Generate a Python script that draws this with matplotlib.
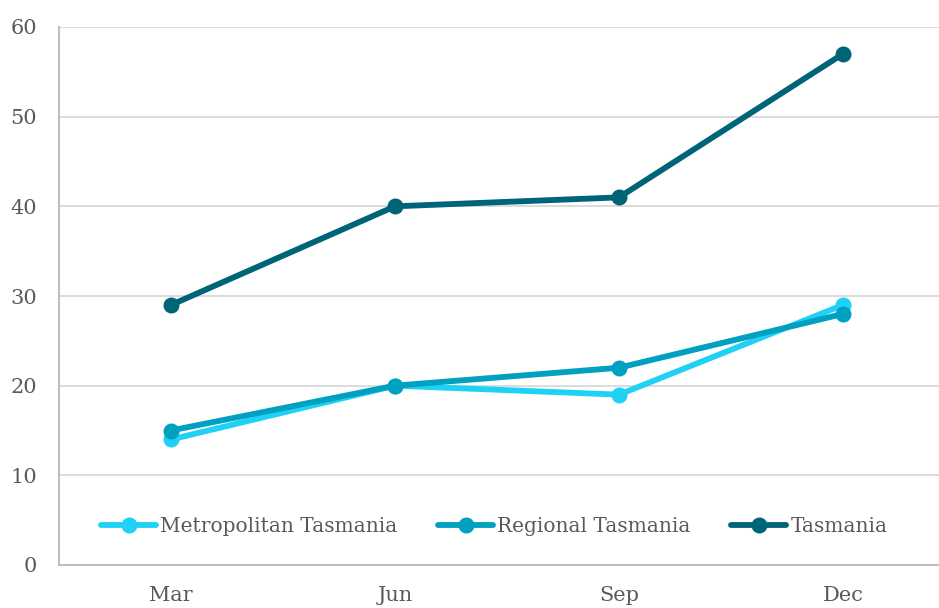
import matplotlib.pyplot as plt

# quarters and series values
quarters = ['Mar', 'Jun', 'Sep', 'Dec']
metro = [14, 20, 19, 29]
regional = [15, 20, 22, 28]
tasmania = [29, 40, 41, 57]

plt.rcParams['font.family'] = ['DejaVu Serif']

fig = plt.figure(figsize=(9.39, 6.08), dpi=100)
ax = fig.add_axes([59 / 939, 43 / 608, 1 - 59 / 939, 538 / 608])

x = range(len(quarters))
ax.plot(x, metro, color='#1fd2f5', linewidth=4.2, marker='o', markersize=10.5,
        label='Metropolitan Tasmania', solid_capstyle='round')
ax.plot(x, regional, color='#00a0c0', linewidth=4.2, marker='o', markersize=10.5,
        label='Regional Tasmania', solid_capstyle='round')
ax.plot(x, tasmania, color='#006478', linewidth=4.2, marker='o', markersize=10.5,
        label='Tasmania', solid_capstyle='round')

ax.set_xlim(-0.5, (939 - 171) / 224)
ax.set_ylim(0, 60)
ax.set_xticks(list(x))
ax.set_xticklabels(quarters)
ax.set_yticks(range(0, 61, 10))

ax.grid(True, axis='y', color='#d9d9d9', linewidth=1.3)
ax.set_axisbelow(True)
for side in ['top', 'right']:
    ax.spines[side].set_visible(False)
for side in ['left', 'bottom']:
    ax.spines[side].set_color('#bfbfbf')
    ax.spines[side].set_linewidth(1.5)
ax.tick_params(axis='both', length=0, labelsize=15, colors='#595959')
ax.tick_params(axis='y', pad=16)
ax.tick_params(axis='x', pad=15)

leg = ax.legend(loc='center left', bbox_to_anchor=(91 / 939, 1 - 527 / 608),
                bbox_transform=fig.transFigure, ncol=3, frameon=False,
                fontsize=14.5, handlelength=2.75, handletextpad=0.2,
                columnspacing=2.0, borderpad=0)
for t in leg.get_texts():
    t.set_color('#595959')

fig.savefig('out.png', dpi=100)
